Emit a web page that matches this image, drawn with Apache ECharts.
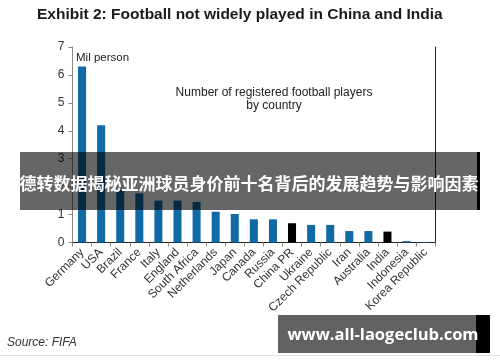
<!DOCTYPE html>
<html>
<head>
<meta charset="utf-8">
<style>
  html, body { margin: 0; padding: 0; background: #ffffff; }
  #chart { width: 500px; height: 362px; }
</style>
<script src="https://cdn.jsdelivr.net/npm/echarts@6/dist/echarts.min.js"></script>
</head>
<body>
<div id="chart"></div>
<script>
const categories = ['Germany', 'USA', 'Brazil', 'France', 'Italy', 'England', 'South Africa', 'Netherlands', 'Japan', 'Canada', 'Russia', 'China PR', 'Ukraine', 'Czech Republic', 'Iran', 'Australia', 'India', 'Indonesia', 'Korea Republic'];
const players = [6.3, 4.2, 1.88, 1.76, 1.5, 1.5, 1.45, 1.1, 1.02, 0.83, 0.83, 0.69, 0.63, 0.63, 0.41, 0.41, 0.39, 0.05, 0.02];
const highlighted = ['China PR', 'India'];
const yTicks = [0, 1, 2, 3, 4, 5, 6, 7];

const FONT = '"Liberation Sans", Arial, sans-serif';
const chart = echarts.init(document.getElementById('chart'), null, { renderer: 'canvas' });

const barData = categories.map((c, i) => ({
  value: players[i],
  itemStyle: { color: highlighted.includes(c) ? '#000000' : '#0f6aa5' }
}));

chart.setOption({
  animation: false,
  backgroundColor: '#ffffff',
  grid: { left: 72.5, right: 64.8, top: 47, bottom: 119.5, containLabel: false },
  xAxis: [{
    type: 'category',
    data: categories,
    axisLine: { lineStyle: { color: '#8a8a8a', width: 1 } },
    axisTick: { show: true, alignWithLabel: false, length: 4, lineStyle: { color: '#8a8a8a' } },
    axisLabel: { interval: 0, rotate: 45, fontFamily: FONT, fontSize: 12, color: '#333', margin: 8 }
  }, {
    type: 'category',
    data: categories,
    position: 'top',
    axisLine: { show: true, lineStyle: { color: '#222', width: 1 } },
    axisTick: { show: false },
    axisLabel: { show: false }
  }],
  yAxis: [{
    type: 'value',
    min: yTicks[0],
    max: yTicks[yTicks.length - 1],
    interval: 1,
    axisLine: { show: true, lineStyle: { color: '#8a8a8a', width: 1 } },
    axisTick: { show: true, length: 4, lineStyle: { color: '#8a8a8a' } },
    axisLabel: { fontFamily: FONT, fontSize: 12, color: '#333', margin: 8 },
    splitLine: { show: false }
  }, {
    type: 'value',
    min: yTicks[0],
    max: yTicks[yTicks.length - 1],
    interval: 1,
    position: 'right',
    axisLine: { show: true, lineStyle: { color: '#222', width: 1 } },
    axisTick: { show: false },
    axisLabel: { show: false },
    splitLine: { show: false }
  }],
  series: [{
    type: 'bar',
    data: barData,
    barWidth: '42%'
  }],
  graphic: [
    { type: 'text', left: 37, top: 7, style: { text: 'Exhibit 2: Football not widely played in China and India', font: 'bold 15.5px ' + FONT, fill: '#1a1a1a' } },
    { type: 'text', left: 76, top: 52, style: { text: 'Mil person', font: '11.5px ' + FONT, fill: '#222' } },
    { type: 'text', x: 274, y: 86, style: { text: 'Number of registered football players\nby country', font: '12px ' + FONT, fill: '#222', textAlign: 'center', lineHeight: 13 } },
    { type: 'text', left: 7, top: 337, style: { text: 'Source: FIFA', font: 'italic 12px ' + FONT, fill: '#333' } },
    { type: 'rect', shape: { x: 0, y: 355, width: 500, height: 1 }, style: { fill: '#dde3e6' } },
    { type: 'rect', shape: { x: 20, y: 152, width: 460, height: 58 }, style: { fill: 'rgba(0,0,0,0.6)' }, z: 100 },
    { type: 'rect', shape: { x: 477, y: 152, width: 3, height: 58 }, style: { fill: '#000' }, z: 101 },
    { type: 'text', x: 249, y: 184, style: { text: '德转数据揭秘亚洲球员身价前十名背后的发展趋势与影响因素', font: 'bold 17px "Noto Sans CJK SC", sans-serif', fill: '#ffffff', textAlign: 'center', textVerticalAlign: 'middle' }, z: 102 },
    { type: 'rect', shape: { x: 278, y: 315, width: 212, height: 38 }, style: { fill: '#626262' }, z: 100 },
    { type: 'rect', shape: { x: 476, y: 315, width: 14, height: 38 }, style: { fill: '#000' }, z: 101 },
    { type: 'text', x: 383, y: 335, style: { text: 'www.all-laogeclub.com', font: 'bold 16.5px "Open Sans", sans-serif', fill: '#ffffff', textAlign: 'center', textVerticalAlign: 'middle' }, z: 102 }
  ]
});
</script>
</body>
</html>
